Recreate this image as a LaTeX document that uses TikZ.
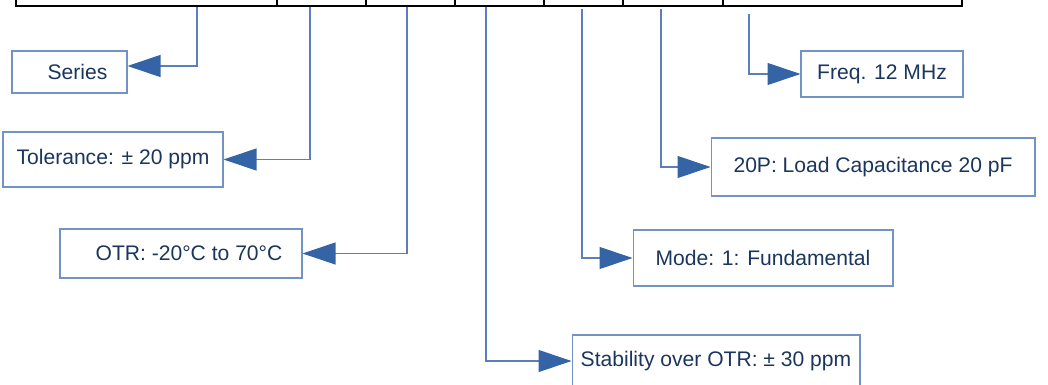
\documentclass[tikz,border=0pt]{standalone}
\usepackage{fontspec}
\setmainfont{Liberation Sans}
\usetikzlibrary{arrows.meta,calc}
\definecolor{boxblue}{HTML}{7293C6}
\definecolor{lineblue}{HTML}{5B7FBA}
\definecolor{tipblue}{HTML}{3464A6}
\definecolor{textnavy}{HTML}{1B365D}
\begin{document}
\begin{tikzpicture}[x=0.02cm, y=-0.02cm, font=\fontsize{12}{14}\selectfont,
	infobox/.style={rectangle,draw=boxblue,line width=0.6pt,text=textnavy,inner sep=0pt},
	codecell/.style={rectangle,draw=black,line width=1pt,anchor=south west,inner sep=0pt,minimum height=1.2cm},
	link/.style={draw=lineblue,line width=0.6pt,-{Triangle[length=0.66cm,width=0.44cm,color=tipblue]}}]
	\useasboundingbox (0,0) rectangle (1048,385);
	\clip (0,0) rectangle (1048,385);
	% part number cells, only their lower edge is visible
	\foreach \i/\a/\b in {1/15/276, 2/276/365, 3/365/454, 4/454/543, 5/543/622, 6/622/722, 7/722/961}
		\node[codecell, minimum width={(\b-\a)*0.02cm}] (c\i) at (\a,7) {};
	\coordinate (t1) at (197,7);
	\coordinate (t2) at (310,7);
	\coordinate (t3) at (407,7);
	\coordinate (t4) at (486,7);
	\coordinate (t5) at (582,9);
	\coordinate (t6) at (661,9);
	\coordinate (t7) at (749,14);
	% meaning of each field
	\node[infobox, minimum width=2.3cm, minimum height=0.84cm] (series) at (69.5,72) {\hspace{0.32cm}Series};
	\node[infobox, minimum width=4.4cm, minimum height=1.1cm] (tol) at (113,159.5) {Tolerance: ± 20 ppm};
	\node[infobox, minimum width=4.84cm, minimum height=0.98cm] (otr) at (181,253.5) {\hspace{0.32cm}OTR: -20°C to 70°C};
	\node[infobox, minimum width=5.76cm, minimum height=1.04cm] (stab) at (716,361) {Stability over OTR: ± 30 ppm};
	\node[infobox, minimum width=5.2cm, minimum height=1.12cm] (mode) at (763,258) {Mode: 1: Fundamental};
	\node[infobox, minimum width=6.48cm, minimum height=1.16cm] (load) at (873,167) {20P: Load Capacitance 20 pF};
	\node[infobox, minimum width=3.24cm, minimum height=0.92cm] (freq) at (882,74) {Freq. 12 MHz};
	\draw[link] (t1) |- ($(series.east)+(0,-6)$);
	\draw[link] (t2) |- (tol);
	\draw[link] (t3) |- (otr);
	\draw[link] (t4) |- (stab);
	\draw[link] (t5) |- (mode);
	\draw[link] (t6) |- (load);
	\draw[link] (t7) |- (freq);
\end{tikzpicture}
\end{document}
